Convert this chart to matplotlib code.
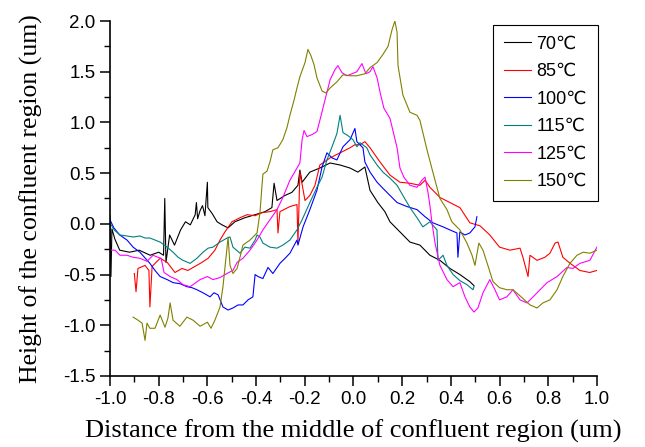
import matplotlib
matplotlib.use('Agg')
import matplotlib.pyplot as plt
from matplotlib.ticker import MultipleLocator
import numpy as np

# Height profiles (x in um, height in um)
x_70 = [-1.0, -0.996, -0.992, -0.98, -0.96, -0.92, -0.88, -0.835, -0.80, -0.78, -0.775, -0.77, -0.755,
        -0.735, -0.71, -0.69, -0.67, -0.65, -0.645, -0.64, -0.63, -0.62, -0.61, -0.60, -0.598, -0.58,
        -0.56, -0.54, -0.515, -0.487, -0.446, -0.404, -0.363, -0.335, -0.326, -0.314, -0.281, -0.253,
        -0.228, -0.22, -0.211, -0.179, -0.138, -0.096, -0.055, -0.014, 0.018, 0.047, 0.068, 0.10,
        0.129, 0.15, 0.191, 0.232, 0.273, 0.314, 0.355, 0.396, 0.437, 0.478, 0.495]
y_70 = [0.08, -0.52, -0.05, -0.15, -0.26, -0.28, -0.26, -0.31, -0.28, -0.31, 0.25, -0.38, -0.11,
        -0.21, -0.06, 0.02, -0.01, 0.09, 0.21, 0.05, 0.13, 0.18, 0.08, 0.41, 0.16, 0.10,
        0.02, -0.01, -0.04, 0.02, 0.06, 0.09, 0.12, 0.16, 0.40, 0.23, 0.28, 0.31,
        0.38, 0.53, 0.41, 0.51, 0.55, 0.60, 0.58, 0.55, 0.51, 0.56, 0.33, 0.21,
        0.12, 0.02, -0.08, -0.18, -0.21, -0.31, -0.36, -0.44, -0.50, -0.57, -0.61]

x_85 = [-0.90, -0.893, -0.885, -0.856, -0.84, -0.836, -0.827, -0.794, -0.765, -0.733, -0.704, -0.68,
        -0.651, -0.622, -0.597, -0.569, -0.548, -0.528, -0.499, -0.466, -0.437, -0.404, -0.376,
        -0.343, -0.314, -0.31, -0.302, -0.261, -0.232, -0.228, -0.22, -0.199, -0.179, -0.158,
        -0.138, -0.096, -0.055, -0.014, 0.006, 0.027, 0.047, 0.068, 0.109, 0.15, 0.191, 0.232,
        0.273, 0.294, 0.314, 0.355, 0.396, 0.437, 0.478, 0.52, 0.56, 0.60, 0.643, 0.684, 0.696,
        0.717, 0.725, 0.754, 0.786, 0.807, 0.828, 0.84, 0.86, 0.89, 0.93, 0.97, 1.0]
y_85 = [-0.49, -0.67, -0.44, -0.41, -0.46, -0.82, -0.42, -0.34, -0.38, -0.48, -0.44, -0.46,
        -0.42, -0.38, -0.34, -0.26, -0.16, -0.08, 0.02, 0.06, 0.09, 0.08, 0.11,
        0.12, 0.14, -0.09, 0.12, 0.17, 0.19, -0.19, 0.51, 0.23, 0.28, 0.38,
        0.58, 0.65, 0.70, 0.75, 0.78, 0.78, 0.81, 0.75, 0.61, 0.48, 0.41, 0.40,
        0.38, 0.43, 0.36, 0.26, 0.21, 0.16, 0.01, -0.02, -0.11, -0.23, -0.26, -0.24, -0.33,
        -0.52, -0.31, -0.36, -0.33, -0.29, -0.19, -0.18, -0.33, -0.39, -0.46, -0.48, -0.46]

x_100 = [-1.0, -0.984, -0.96, -0.93, -0.905, -0.877, -0.836, -0.815, -0.794, -0.765, -0.741, -0.713,
         -0.684, -0.663, -0.643, -0.618, -0.589, -0.573, -0.556, -0.536, -0.515, -0.495, -0.474,
         -0.454, -0.433, -0.413, -0.404, -0.392, -0.372, -0.351, -0.331, -0.302, -0.281, -0.261,
         -0.232, -0.228, -0.207, -0.179, -0.15, -0.129, -0.109, -0.088, -0.068, -0.043, -0.014,
         0.006, 0.014, 0.039, 0.047, 0.068, 0.097, 0.121, 0.15, 0.179, 0.22, 0.261, 0.294, 0.326,
         0.368, 0.396, 0.425, 0.429, 0.437, 0.458, 0.478, 0.499, 0.507]
y_100 = [0.04, -0.04, -0.11, -0.16, -0.23, -0.28, -0.39, -0.46, -0.52, -0.55, -0.58, -0.59,
         -0.62, -0.63, -0.65, -0.68, -0.72, -0.68, -0.70, -0.82, -0.85, -0.83, -0.80,
         -0.80, -0.75, -0.72, -0.50, -0.52, -0.54, -0.43, -0.49, -0.39, -0.34, -0.29,
         -0.16, -0.21, -0.03, 0.14, 0.33, 0.56, 0.70, 0.65, 0.63, 0.76, 0.83,
         0.94, 0.81, 0.75, 0.61, 0.51, 0.41, 0.35, 0.28, 0.21, 0.17, 0.14, 0.07, 0.01,
         -0.03, -0.06, -0.09, -0.33, -0.08, -0.11, -0.09, -0.03, 0.07]

x_115 = [-1.0, -0.983, -0.959, -0.93, -0.905, -0.877, -0.856, -0.836, -0.815, -0.794, -0.765, -0.741,
         -0.72, -0.70, -0.671, -0.643, -0.618, -0.597, -0.577, -0.548, -0.519, -0.507, -0.495,
         -0.466, -0.446, -0.425, -0.404, -0.396, -0.384, -0.372, -0.343, -0.314, -0.29, -0.261,
         -0.232, -0.211, -0.179, -0.15, -0.129, -0.109, -0.088, -0.068, -0.055, -0.043, -0.023,
         -0.002, 0.014, 0.027, 0.055, 0.068, 0.097, 0.121, 0.15, 0.179, 0.203, 0.232, 0.261,
         0.285, 0.314, 0.343, 0.347, 0.368, 0.384, 0.409, 0.437, 0.466, 0.491, 0.495]
y_115 = [0.01, -0.06, -0.11, -0.12, -0.13, -0.12, -0.14, -0.14, -0.16, -0.18, -0.23, -0.28,
         -0.33, -0.36, -0.39, -0.34, -0.28, -0.24, -0.23, -0.18, -0.14, -0.13, -0.23,
         -0.29, -0.23, -0.24, -0.16, -0.11, -0.13, -0.19, -0.23, -0.24, -0.21, -0.16,
         -0.06, 0.04, 0.21, 0.36, 0.46, 0.63, 0.76, 0.89, 1.07, 0.90, 0.87,
         0.83, 0.76, 0.80, 0.75, 0.68, 0.58, 0.51, 0.45, 0.38, 0.28, 0.16, 0.06,
         -0.03, 0.02, -0.06, -0.36, -0.31, -0.41, -0.50, -0.56, -0.60, -0.65, -0.62]

x_125 = [-1.0, -0.979, -0.959, -0.93, -0.905, -0.877, -0.848, -0.823, -0.803, -0.79, -0.778, -0.753,
         -0.725, -0.70, -0.671, -0.647, -0.63, -0.60, -0.577, -0.548, -0.52, -0.495, -0.478,
         -0.454, -0.425, -0.396, -0.372, -0.343, -0.314, -0.29, -0.261, -0.232, -0.22, -0.211,
         -0.203, -0.191, -0.17, -0.15, -0.138, -0.117, -0.096, -0.076, -0.064, -0.047, -0.027,
         -0.006, 0.014, 0.035, 0.051, 0.068, 0.08, 0.097, 0.109, 0.125, 0.15, 0.179, 0.191, 0.207,
         0.232, 0.261, 0.281, 0.294, 0.306, 0.314, 0.322, 0.335, 0.355, 0.384, 0.409, 0.437,
         0.458, 0.478, 0.495, 0.511, 0.532, 0.56, 0.581, 0.60, 0.63, 0.655, 0.684, 0.713, 0.754,
         0.795, 0.836, 0.877, 0.901, 0.93, 0.971, 1.0]
y_125 = [-0.26, -0.26, -0.31, -0.31, -0.33, -0.34, -0.37, -0.31, -0.33, -0.34, -0.48, -0.52,
         -0.55, -0.60, -0.62, -0.58, -0.55, -0.52, -0.55, -0.53, -0.49, -0.46, -0.38,
         -0.34, -0.26, -0.16, -0.06, 0.04, 0.14, 0.26, 0.43, 0.55, 0.60, 0.83,
         0.92, 0.86, 0.88, 0.91, 1.02, 1.22, 1.42, 1.52, 1.56, 1.49, 1.46,
         1.48, 1.50, 1.58, 1.48, 1.50, 1.55, 1.44, 1.30, 1.14, 1.04, 0.75, 0.55, 0.46,
         0.38, 0.36, 0.43, 0.46, 0.31, 0.18, 0.02, -0.19, -0.41, -0.55, -0.62, -0.58,
         -0.72, -0.82, -0.87, -0.83, -0.68, -0.55, -0.65, -0.75, -0.72, -0.65, -0.75, -0.78, -0.68,
         -0.58, -0.52, -0.43, -0.44, -0.39, -0.36, -0.23]

x_150 = [-0.905, -0.885, -0.868, -0.856, -0.848, -0.836, -0.815, -0.794, -0.774, -0.762, -0.753,
         -0.741, -0.713, -0.684, -0.659, -0.63, -0.60, -0.585, -0.569, -0.548, -0.536, -0.519,
         -0.515, -0.507, -0.495, -0.478, -0.466, -0.454, -0.425, -0.396, -0.384, -0.372, -0.355,
         -0.343, -0.331, -0.31, -0.29, -0.273, -0.261, -0.244, -0.232, -0.22, -0.199, -0.187,
         -0.175, -0.162, -0.15, -0.129, -0.113, -0.096, -0.068, -0.043, -0.014, 0.014, 0.047,
         0.068, 0.097, 0.121, 0.142, 0.158, 0.17, 0.179, 0.183, 0.203, 0.232, 0.261, 0.273,
         0.302, 0.326, 0.355, 0.384, 0.404, 0.437, 0.466, 0.487, 0.499, 0.515, 0.532, 0.552,
         0.573, 0.60, 0.63, 0.655, 0.684, 0.725, 0.754, 0.778, 0.807, 0.836, 0.86, 0.889, 0.918,
         0.943, 0.971, 1.0]
y_150 = [-0.92, -0.95, -0.98, -1.15, -0.98, -1.03, -1.03, -0.90, -1.02, -0.93, -0.78,
         -0.95, -1.01, -0.92, -0.95, -1.01, -0.97, -1.03, -0.95, -0.82, -0.62, -0.23,
         -0.13, -0.41, -0.49, -0.44, -0.33, -0.21, -0.16, -0.09, 0.11, 0.49, 0.52,
         0.61, 0.73, 0.75, 0.83, 0.95, 1.07, 1.22, 1.34, 1.45, 1.59, 1.72,
         1.66, 1.57, 1.44, 1.31, 1.29, 1.34, 1.40, 1.47, 1.46, 1.46, 1.48,
         1.54, 1.59, 1.67, 1.75, 1.91, 2.0, 1.89, 1.56, 1.27, 1.10, 1.07, 1.02,
         0.73, 0.51, 0.25, 0.14, 0.02, -0.06, -0.19, -0.31, -0.41, -0.19, -0.26, -0.41,
         -0.57, -0.63, -0.65, -0.65, -0.71, -0.80, -0.83, -0.78, -0.75, -0.65, -0.52, -0.39, -0.31,
         -0.28, -0.29, -0.26]

series = [
    (x_70, y_70, 'black', '70℃'),
    (x_85, y_85, 'red', '85℃'),
    (x_100, y_100, '#0000FF', '100℃'),
    (x_115, y_115, '#008080', '115℃'),
    (x_125, y_125, '#FF00FF', '125℃'),
    (x_150, y_150, '#808000', '150℃'),
]

plt.rcParams['font.family'] = ['Liberation Sans', 'DejaVu Sans']

fig = plt.figure(figsize=(6.45, 4.47), dpi=100)
ax = fig.add_axes([0.1705, 0.159, 0.755, 0.794])

for xs, ys, color, label in series:
    ax.plot(xs, ys, color=color, linewidth=0.8, label=label)

ax.set_xlim(-1.0, 1.0)
ax.set_ylim(-1.5, 2.0)
ax.xaxis.set_major_locator(MultipleLocator(0.2))
ax.xaxis.set_minor_locator(MultipleLocator(0.1))
ax.yaxis.set_major_locator(MultipleLocator(0.5))
ax.yaxis.set_minor_locator(MultipleLocator(0.25))
ax.xaxis.set_major_formatter(plt.FuncFormatter(lambda v, p: '%.1f' % v))
ax.yaxis.set_major_formatter(plt.FuncFormatter(lambda v, p: '%.1f' % v))

ax.spines['top'].set_visible(False)
ax.spines['right'].set_visible(False)
ax.spines['left'].set_linewidth(1.2)
ax.spines['bottom'].set_linewidth(1.2)
ax.tick_params(which='major', direction='out', length=7, width=1.1, labelsize=13.5)
ax.tick_params(which='minor', direction='out', length=4, width=1.0)

ax.set_xlabel('Distance from the middle of confluent region (um)',
              family='Liberation Serif', fontsize=19, labelpad=9)
ax.set_ylabel('Height of the confluent region (um)',
              family='Liberation Serif', fontsize=18.5, labelpad=14)

leg = ax.legend(loc='upper right', bbox_to_anchor=(1.002, 0.989), fontsize=13,
                fancybox=False, edgecolor='black', framealpha=1, borderaxespad=0,
                handlelength=1.5, labelspacing=0.58, borderpad=0.6, handletextpad=0.3)
leg.get_frame().set_linewidth(0.8)

fig.savefig('out.png', dpi=100)
